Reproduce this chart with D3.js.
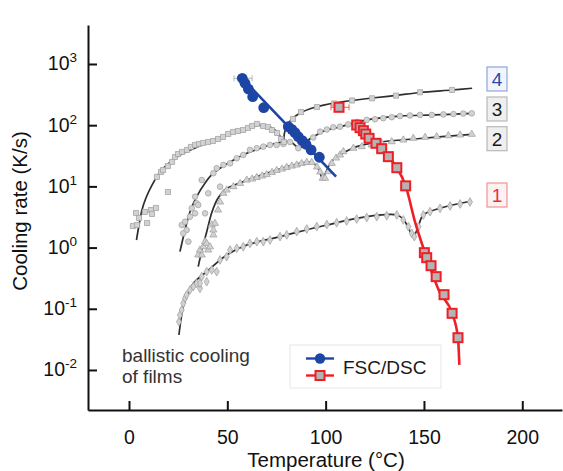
<!DOCTYPE html>
<html>
<head>
<meta charset="utf-8">
<script src="https://cdn.jsdelivr.net/npm/d3@7"></script>
<style>
  html, body { margin: 0; padding: 0; background: #fff; }
  svg { display: block; font-family: "Liberation Sans", Arial, Helvetica, sans-serif; }
</style>
</head>
<body>
<svg id="chart" width="563" height="471"></svg>
<script>
// ---------------- data ----------------
const xTicks = [0, 50, 100, 150, 200];
const yTicks = [1e3, 1e2, 1e1, 1e0, 1e-1, 1e-2];
const yTickExp = ["3", "2", "1", "0", "-1", "-2"];
const curveLabels = ["1", "2", "3", "4"];

// ballistic cooling of films: fitted curves, [temperature °C, cooling rate K/s]
const film1Fit = [[25.4,0.0373],[26.4,0.0656],[27.6,0.108],[30.0,0.175],[32.7,0.261],[39.5,0.404],[49.7,0.757],[59.9,1.10],[76.8,1.51],[100.6,2.34],[120.9,3.20],[136.2,3.41],[139.4,2.93],[141.9,2.17],[144.6,1.51],[147.0,2.17],[149.7,3.41],[158.2,4.39],[174.3,5.77]];
const film2Fit = [[35.2,0.488],[37.1,0.914],[39.5,1.80],[42.2,3.82],[45.3,6.46],[49.3,9.07],[56.5,11.4],[69.2,16.0],[85.5,23.2],[93.1,24.6],[96.1,20.0],[98.4,13.7],[100.2,17.2],[102.7,25.1],[107.3,32.6],[115.8,44.6],[127.7,53.1],[148.0,60.6],[174.3,71.0]];
const film3Fit = [[25.9,0.857],[28.5,1.94],[31.0,3.82],[34.4,6.79],[38.7,11.4],[42.9,16.4],[51.4,25.1],[59.9,34.8],[66.6,41.6],[73.4,49.3],[81.9,53.7],[84.9,45.7],[86.5,40.8],[89.1,51.2],[93.8,64.9],[100.6,83.5],[107.3,93.5],[120.9,122],[137.8,141],[154.8,147],[174.3,156]];
const film4Fit = [[3.8,1.33],[5.1,2.34],[6.6,4.11],[8.6,6.46],[11.7,10.5],[15.8,17.2],[20.9,25.0],[26.0,32.6],[33.6,42.4],[42.7,57.3],[51.4,71.8],[59.5,86.7],[65.6,98.9],[70.7,97.0],[74.8,80.4],[77.3,61.8],[78.3,53.1],[79.3,80.4],[81.9,117],[87.0,158],[95.1,198],[104.8,231],[113.4,253],[123.6,278],[135.8,306],[148.0,342],[164.3,376],[174.5,401]];

// ballistic cooling of films: measured points
const film1Pts = [[25.4,0.0615],[25.9,0.0792],[26.8,0.0955],[27.6,0.123],[28.5,0.149],[29.3,0.168],[31.0,0.203],[32.7,0.230],[34.4,0.261],[36.1,0.216],[36.1,0.261],[37.0,0.335],[39.5,0.277],[39.5,0.404],[42.1,0.431],[44.6,0.404],[46.3,0.627],[49.7,0.710],[51.4,0.914],[54.8,0.975],[58.1,1.03],[61.5,1.17],[65.0,1.25],[68.3,1.25],[71.7,1.33],[76.8,1.51],[80.2,1.61],[85.3,1.82],[90.4,2.01],[95.5,2.20],[100.6,2.38],[105.6,2.55],[110.7,2.72],[115.8,2.93],[120.9,3.10],[126.0,3.20],[131.1,3.32],[136.2,3.41],[139.5,2.83],[142.1,2.20],[143.8,1.71],[145.1,1.51],[147.2,2.20],[149.7,3.41],[153.1,3.86],[158.2,4.39],[163.3,4.79],[168.4,5.16],[173.4,5.56]];
const film2Pts = [[35.2,0.757],[37.0,0.757],[36.1,0.914],[37.8,1.03],[38.7,1.25],[39.5,1.17],[40.3,0.914],[41.2,1.03],[42.9,1.61],[42.1,2.34],[43.7,2.49],[42.9,1.94],[45.3,4.11],[46.3,5.56],[48.0,7.71],[49.7,8.73],[53.1,9.89],[56.5,11.2],[59.9,12.7],[62.6,13.2],[65.0,14.0],[67.7,14.8],[70.0,15.6],[72.7,16.9],[75.1,18.2],[77.8,19.2],[80.2,20.4],[82.8,21.5],[85.3,22.4],[87.8,23.7],[90.4,24.6],[92.9,24.6],[95.6,20.8],[97.2,17.2],[98.5,13.6],[99.7,13.6],[101.4,17.4],[103.1,23.8],[105.3,29.1],[107.3,32.6],[109.0,36.9],[114.1,42.0],[118.4,44.6],[123.4,47.5],[128.5,50.6],[133.6,53.7],[139.5,57.3],[144.6,61.1],[150.6,63.4],[156.5,64.9],[162.4,67.3],[168.4,69.2],[174.3,71.0]];
const film3Pts = [[26.8,2.34],[28.5,2.65],[29.3,1.94],[27.6,1.71],[30.2,1.25],[31.0,3.20],[33.6,3.63],[38.7,3.63],[31.9,4.39],[34.4,5.30],[35.2,4.97],[40.3,7.71],[33.6,6.79],[37.0,12.7],[46.3,9.89],[42.9,16.4],[44.6,19.8],[48.0,22.4],[51.4,23.8],[54.8,28.8],[58.1,32.6],[61.5,39.4],[65.0,42.0],[68.3,44.6],[71.7,47.5],[75.1,47.5],[78.5,49.3],[81.9,53.1],[86.1,42.0],[89.5,51.2],[93.7,63.0],[97.2,78.3],[100.6,85.1],[103.9,92.4],[107.3,94.5],[111.5,103],[116.0,113],[120.9,122],[125.1,125],[129.3,130],[133.6,135],[137.8,141],[142.9,144],[148.0,147],[154.0,147],[159.9,150],[165.0,152],[170.0,155],[174.3,156]];
const film4Pts = [[2.0,2.25],[3.6,3.67],[4.1,2.34],[5.1,3.05],[8.1,3.82],[9.2,2.52],[11.2,4.11],[11.7,3.54],[13.7,4.44],[19.8,8.09],[14.2,14.3],[16.3,17.2],[17.3,18.5],[19.8,21.5],[21.9,25.1],[23.4,30.2],[24.9,33.8],[27.0,36.5],[29.5,39.4],[31.5,44.1],[33.6,47.5],[35.6,49.3],[37.6,51.2],[40.2,53.1],[42.7,55.2],[45.3,59.5],[47.8,64.2],[50.4,71.8],[52.9,77.4],[55.4,80.4],[58.0,83.5],[60.5,90.0],[62.6,97.0],[65.1,105],[68.2,97.0],[70.7,93.5],[72.7,83.5],[75.3,74.6],[77.3,59.5],[78.8,53.1],[80.4,90.0],[83.4,126],[87.5,164],[95.6,198],[104.3,226],[113.4,253],[123.6,275],[135.8,304],[148.0,345],[164.3,376]];

// FSC/DSC, blue circles
const fscT = [57.6, 59.0, 60.7, 62.9, 68.5, 81.0, 82.8, 84.4, 86.1, 88.1, 90.0, 92.6, 96.8];
const fscR = [584, 484, 390, 292, 193, 94.5, 85.6, 75.4, 64.8, 55.8, 48.8, 39.4, 29.9];
const fscFit = [[57.6, 584], [105.3, 14.4]];
const fscErrT = [53.4, 62.6];   // horizontal error of the first point

// FSC/DSC, red squares
const dscT = [106.8, 115.8, 117.5, 119.2, 120.4, 122.1, 125.6, 128.5, 131.9, 136.2, 140.7, 150.2, 151.4, 153.6, 156.2, 160.2, 164.3, 167.3];
const dscR = [196, 100.7, 91, 81.3, 71.7, 61, 50.6, 41.3, 30.6, 20.2, 10.2, 0.826, 0.684, 0.506, 0.335, 0.170, 0.0843, 0.0337];
const dscFit = [[115.8,100.7],[120.4,71.7],[125.6,50.6],[131.9,30.6],[136.2,20.2],[140.7,10.2],[145.5,2.6],[150.2,0.88],[158.2,0.181],[164.3,0.0843],[167.3,0.0337],[168.0,0.0121]];
const dscErrT = [102.7, 111.9]; // horizontal error of the first point

// ---------------- layout ----------------
const plotLeft = 88, plotRight = 562, plotTop = 25, plotBottom = 410;
const svg = d3.select("#chart");

const x = d3.scaleLinear().domain([-20.85, 220.2]).range([plotLeft, plotRight]);
const y = d3.scaleLog().domain([Math.pow(10, -2.654), Math.pow(10, 3.637)]).range([plotBottom, plotTop]);

const ink = "#111";

// ---------------- axes ----------------
const xAxis = d3.axisBottom(x).tickValues(xTicks).tickSizeInner(-9).tickSizeOuter(0).tickPadding(20)
  .tickFormat(d3.format("d"));
const gx = svg.append("g").attr("transform", `translate(0,${plotBottom})`).call(xAxis);
gx.selectAll("path, line").attr("stroke", ink).attr("stroke-width", 2);
gx.selectAll("text").attr("font-size", 19.5).attr("fill", ink);
gx.attr("font-family", null).attr("font-size", null);

const yAxis = d3.axisLeft(y).tickValues(yTicks).tickSizeInner(-9).tickSizeOuter(0).tickFormat(() => "");
const gy = svg.append("g").attr("transform", `translate(${plotLeft},0)`).call(yAxis);
gy.selectAll("path, line").attr("stroke", ink).attr("stroke-width", 2);
gy.selectAll("text").remove();

// power-of-ten tick labels
yTicks.forEach((v, i) => {
  const t = svg.append("text")
    .attr("x", plotLeft - 11)
    .attr("y", y(v) + 6.5)
    .attr("text-anchor", "end")
    .attr("font-size", 19.5)
    .attr("fill", ink)
    .text("10");
  t.append("tspan").attr("dy", -8).attr("font-size", 13.5).text(yTickExp[i]);
});

// axis titles
svg.append("text")
  .attr("x", 326).attr("y", 467)
  .attr("text-anchor", "middle")
  .attr("font-size", 20.5).attr("fill", ink)
  .text("Temperature (°C)");
svg.append("text")
  .attr("transform", "translate(27,211) rotate(-90)")
  .attr("text-anchor", "middle")
  .attr("font-size", 20.5).attr("fill", ink)
  .text("Cooling rate (K/s)");

// ---------------- film curves ----------------
const line = d3.line()
  .x(d => x(d[0])).y(d => y(d[1]))
  .curve(d3.curveCatmullRom.alpha(0.5));

const films = [
  { fit: film1Fit, pts: film1Pts, shape: d3.symbolDiamond, size: 22 },
  { fit: film2Fit, pts: film2Pts, shape: d3.symbolTriangle, size: 22 },
  { fit: film3Fit, pts: film3Pts, shape: d3.symbolCircle, size: 25 },
  { fit: film4Fit, pts: film4Pts, shape: d3.symbolSquare, size: 26 }
];

const gFilm = svg.append("g");
films.forEach(f => {
  gFilm.append("path")
    .datum(f.fit)
    .attr("d", line)
    .attr("fill", "none")
    .attr("stroke", "#2e2e2e")
    .attr("stroke-width", 1.7);
});
films.forEach(f => {
  gFilm.append("g").selectAll("path")
    .data(f.pts)
    .join("path")
    .attr("transform", d => `translate(${x(d[0])},${y(d[1])})`)
    .attr("d", d3.symbol().type(f.shape).size(f.size))
    .attr("fill", "#d2d2d2")
    .attr("stroke", "#a4a4a4")
    .attr("stroke-width", 0.8);
});

// ---------------- FSC/DSC blue ----------------
const blue = "#1d45a6";
svg.append("g").call(g => {
  const yy = y(fscR[0]);
  g.append("line").attr("x1", x(fscErrT[0])).attr("x2", x(fscErrT[1]))
    .attr("y1", yy).attr("y2", yy).attr("stroke", "#b5b5b5").attr("stroke-width", 1);
  fscErrT.forEach(t => g.append("line").attr("x1", x(t)).attr("x2", x(t))
    .attr("y1", yy - 3).attr("y2", yy + 3).attr("stroke", "#b5b5b5").attr("stroke-width", 1));
});
svg.append("path")
  .datum(fscFit)
  .attr("d", d3.line().x(d => x(d[0])).y(d => y(d[1])))
  .attr("fill", "none").attr("stroke", blue).attr("stroke-width", 2.6);
svg.append("g").selectAll("circle")
  .data(fscT.map((t, i) => [t, fscR[i]]))
  .join("circle")
  .attr("cx", d => x(d[0])).attr("cy", d => y(d[1]))
  .attr("r", 5.4)
  .attr("fill", blue);

// ---------------- FSC/DSC red ----------------
const red = "#ee1f26";
svg.append("path")
  .datum(dscFit)
  .attr("d", d3.line().x(d => x(d[0])).y(d => y(d[1])).curve(d3.curveMonotoneX))
  .attr("fill", "none").attr("stroke", red).attr("stroke-width", 2.6);
svg.append("g").call(g => {
  const yy = y(dscR[0]);
  g.append("line").attr("x1", x(dscErrT[0])).attr("x2", x(dscErrT[1]))
    .attr("y1", yy).attr("y2", yy).attr("stroke", "#f06060").attr("stroke-width", 1);
  dscErrT.forEach(t => g.append("line").attr("x1", x(t)).attr("x2", x(t))
    .attr("y1", yy - 3).attr("y2", yy + 3).attr("stroke", "#f06060").attr("stroke-width", 1));
});
svg.append("g").selectAll("rect")
  .data(dscT.map((t, i) => [t, dscR[i]]))
  .join("rect")
  .attr("x", d => x(d[0]) - 4.5).attr("y", d => y(d[1]) - 4.5)
  .attr("width", 9).attr("height", 9)
  .attr("fill", "#b4b4b4")
  .attr("stroke", red).attr("stroke-width", 2);

// ---------------- curve number boxes ----------------
const boxStyles = {
  "1": { cy: 195, stroke: "#f19393", fill: "#fdf1f1", color: "#e5323a" },
  "2": { cy: 138.7, stroke: "#b8b8b8", fill: "#efefef", color: "#1a1a1a" },
  "3": { cy: 109, stroke: "#b8b8b8", fill: "#efefef", color: "#1a1a1a" },
  "4": { cy: 79, stroke: "#8ea6de", fill: "#f3f5fc", color: "#2a4aa8" }
};
curveLabels.forEach(name => {
  const s = boxStyles[name];
  svg.append("rect")
    .attr("x", 487).attr("y", s.cy - 12).attr("width", 20).attr("height", 24)
    .attr("fill", s.fill).attr("stroke", s.stroke).attr("stroke-width", 1.2);
  svg.append("text")
    .attr("x", 497).attr("y", s.cy + 6.8)
    .attr("text-anchor", "middle")
    .attr("font-size", 19).attr("fill", s.color)
    .text(name);
});

// ---------------- annotation and legend ----------------
svg.append("text").attr("x", 122).attr("y", 362)
  .attr("font-size", 19).attr("fill", "#333").text("ballistic cooling");
svg.append("text").attr("x", 122).attr("y", 383)
  .attr("font-size", 19).attr("fill", "#333").text("of films");

const lg = svg.append("g");
lg.append("rect").attr("x", 290).attr("y", 345).attr("width", 151).attr("height", 43)
  .attr("fill", "#fff").attr("stroke", "#e6e6e6").attr("stroke-width", 1);
lg.append("line").attr("x1", 306).attr("x2", 334).attr("y1", 358.5).attr("y2", 358.5)
  .attr("stroke", blue).attr("stroke-width", 2.4);
lg.append("circle").attr("cx", 320).attr("cy", 358.5).attr("r", 5.2).attr("fill", blue);
lg.append("line").attr("x1", 306).attr("x2", 334).attr("y1", 375.5).attr("y2", 375.5)
  .attr("stroke", red).attr("stroke-width", 2.4);
lg.append("rect").attr("x", 315.5).attr("y", 371).attr("width", 9).attr("height", 9)
  .attr("fill", "#b4b4b4").attr("stroke", red).attr("stroke-width", 2);
lg.append("text").attr("x", 343).attr("y", 373.5)
  .attr("font-size", 19).attr("fill", "#1a1a1a").text("FSC/DSC");
</script>
</body>
</html>
